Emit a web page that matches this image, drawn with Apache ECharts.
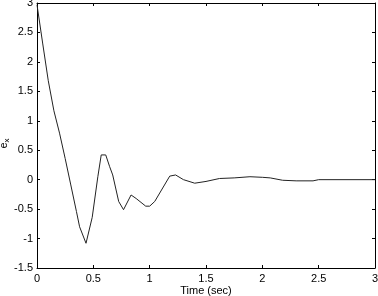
<!DOCTYPE html>
<html><head><meta charset="utf-8">
<script src="https://cdn.jsdelivr.net/npm/echarts@6/dist/echarts.min.js"></script>
<style>html,body{margin:0;padding:0;background:#fff}#c{width:378px;height:296px}</style>
</head><body><div id="c"></div>
<script>
var time = [0, 0.05, 0.1, 0.15, 0.2, 0.25, 0.3, 0.35, 0.378, 0.435, 0.49, 0.54, 0.57, 0.61, 0.645, 0.672, 0.725, 0.768, 0.835, 0.88, 0.965, 1.0, 1.045, 1.178, 1.23, 1.3, 1.4, 1.5, 1.62, 1.75, 1.89, 2.0, 2.07, 2.18, 2.3, 2.45, 2.5, 3.0];
var ex = [2.97, 2.32, 1.68, 1.17, 0.79, 0.36, -0.09, -0.54, -0.8, -1.08, -0.64, 0.05, 0.42, 0.42, 0.22, 0.08, -0.37, -0.51, -0.26, -0.32, -0.45, -0.45, -0.37, 0.06, 0.08, 0.0, -0.06, -0.03, 0.02, 0.03, 0.05, 0.04, 0.03, -0.01, -0.02, -0.02, 0.0, 0.0];
var xTicks = [0, 0.5, 1, 1.5, 2, 2.5, 3];
var yTicks = [-1.5, -1, -0.5, 0, 0.5, 1, 1.5, 2, 2.5, 3];
var xName = 'Time (sec)';

var pts = time.map(function (t, i) { return [t, ex[i]]; });
var font = 'Liberation Sans, Arial, sans-serif';
var chart = echarts.init(document.getElementById('c'));
var axisBase = {
  axisLine: { show: true, onZero: false, lineStyle: { color: '#000', width: 1 } },
  axisTick: { show: true, inside: true, length: 3, lineStyle: { color: '#000' } },
  splitLine: { show: false }
};
chart.setOption({
  animation: false,
  grid: { left: 37, right: 3, top: 3, bottom: 28, containLabel: false, outerBoundsMode: 'none' },
  xAxis: [
    Object.assign({}, axisBase, {
      type: 'value', min: 0, max: 3, interval: 0.5, position: 'bottom',
      name: xName, nameLocation: 'middle', nameGap: 17, nameMoveOverlap: false,
      nameTextStyle: { fontFamily: font, fontSize: 11, color: '#000' },
      axisLabel: { fontFamily: font, fontSize: 11, color: '#000', margin: 5,
        formatter: function (v) { return xTicks.indexOf(v) >= 0 ? String(v) : ''; } }
    }),
    Object.assign({}, axisBase, {
      type: 'value', min: 0, max: 3, interval: 0.5, position: 'top',
      axisLabel: { show: false }
    })
  ],
  yAxis: [
    Object.assign({}, axisBase, {
      type: 'value', min: -1.5, max: 3, interval: 0.5, position: 'left',
      name: '{e|e}{s|x}', nameLocation: 'middle', nameGap: 26, nameRotate: 90, nameMoveOverlap: false,
      nameTextStyle: { padding: [0, 16, 0, 0], rich: {
        e: { fontFamily: font, fontSize: 11, color: '#000' },
        s: { fontFamily: font, fontSize: 8, color: '#000', padding: [6, 0, 0, 0] }
      } },
      axisLabel: { fontFamily: font, fontSize: 11, color: '#000', margin: 4,
        formatter: function (v) { return yTicks.indexOf(v) >= 0 ? String(v) : ''; } }
    }),
    Object.assign({}, axisBase, {
      type: 'value', min: -1.5, max: 3, interval: 0.5, position: 'right',
      axisLabel: { show: false }
    })
  ],
  series: [{
    type: 'line', data: pts, showSymbol: false, symbol: 'none',
    lineStyle: { color: '#222', width: 1 }, xAxisIndex: 0, yAxisIndex: 0
  }]
});
</script></body></html>
